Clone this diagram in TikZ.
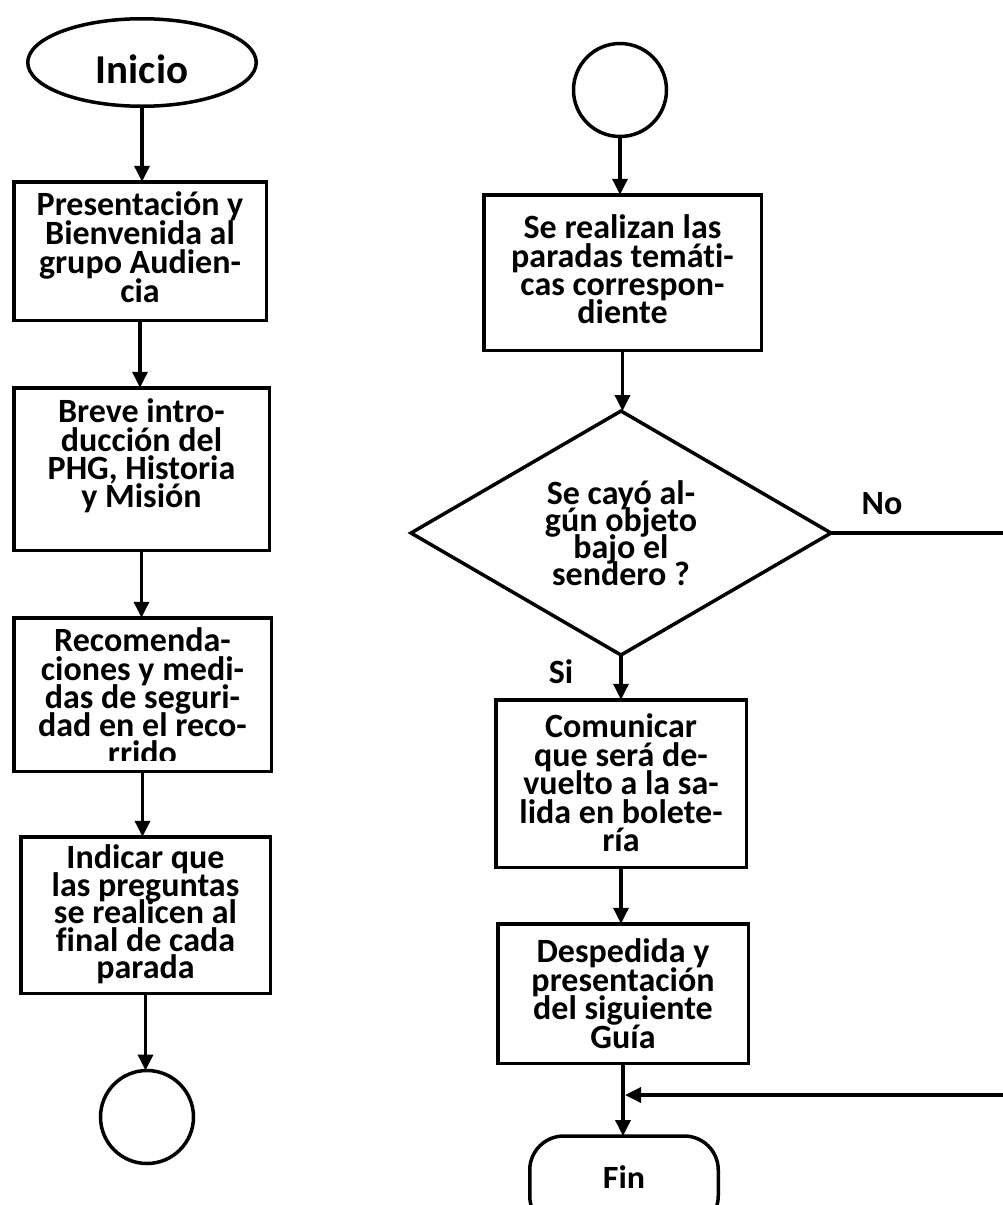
\documentclass[tikz,border=0pt]{standalone}
\usepackage{fontspec}
\setmainfont{Carlito}[Ligatures={NoCommon}]
\usetikzlibrary{arrows.meta,shapes.geometric}

% bold text with a fixed, tight line pitch (lines may touch)
\newcommand\tightbold[1]{\fontsize{34}{#1}\selectfont\bfseries\lineskiplimit=-100pt\relax}
% top-aligned centred text block: height, width, first-baseline drop, text
\newcommand\stepcontent[4]{%
  \parbox[c][#1][t]{#2}{\centering\lineskiplimit=-100pt\rule{0pt}{#3}#4}}

\begin{document}
\begin{tikzpicture}[x=1pt,y=-1pt,
  line width=3.5pt,
  every node/.style={inner sep=0pt, outer sep=0pt},
  stepbox/.style={draw, rectangle, fill=white, font=\tightbold{28.3}},
  terminal/.style={draw, ellipse, align=center,
    font=\fontsize{41}{41}\selectfont\bfseries},
  connector/.style={draw, circle, minimum size=93pt},
  decision/.style={draw, diamond, align=center, shape aspect=1.72, font=\tightbold{27}},
  endbox/.style={draw, rectangle, rounded corners=34pt},
  tag/.style={font=\fontsize{34}{34}\selectfont\bfseries},
  arr/.style={-{Triangle[length=16pt,width=15pt]}, line width=3.5pt}
]
\useasboundingbox (0,0) rectangle (1002,1205);

% ---- left column ----
\node[terminal, minimum width=228.5pt, minimum height=87.5pt, text height=41pt, text depth=0pt]
  (ini) at (142,62.5) {Inicio};

\node[stepbox, font=\tightbold{29}] (b1) at (140,251)
  {\stepcontent{138.5pt}{252.5pt}{34pt}{Presentación y\\Bienvenida al\\grupo Audien-\\cia}};

\node[stepbox] (b2) at (141.5,469)
  {\stepcontent{162.5pt}{255.5pt}{35pt}{Breve intro-\\ducción del\\PHG, Historia\\y Misión}};

% the last line of this step runs past the bottom margin and is cut off
\node[stepbox, minimum width=257.5pt, minimum height=153.5pt] (b3) at (142.5,694.5) {};
\begin{scope}
  \clip (14,618) rectangle (271,760);
  \node[font=\tightbold{28.3}] (b3txt) at (142.5,694.5)
    {\stepcontent{153.5pt}{257.5pt}{34pt}{Recomenda-\\ciones y medi-\\das de seguri-\\dad en el reco-\\rrido}};
\end{scope}

\node[stepbox, font=\tightbold{27.5}] (b4) at (145.5,915)
  {\stepcontent{156.5pt}{249.5pt}{32pt}{Indicar que\\las preguntas\\se realicen al\\final de cada\\parada}};

\node[connector] (c1) at (147,1117) {};

\draw[arr] (ini.south) -- (ini.south |- b1.north);
\draw[arr] (b1.south) -- (b1.south |- b2.north);
\draw[arr] (b2.south) -- (b2.south |- b3.north);
\draw[arr] (b3.south) -- (b3.south |- b4.north);
\draw[arr] (b4.south) -- (b4.south |- c1.north);

% ---- right column ----
\node[connector] (c2) at (620,90) {};

\node[stepbox] (b5) at (622.5,272.5)
  {\stepcontent{155.5pt}{277.5pt}{44pt}{Se realizan las\\paradas temáti-\\cas correspon-\\diente}};

\node[decision, minimum width=420pt, minimum height=244pt] (dec) at (621,533)
  {Se cayó al-\\gún objeto\\bajo el\\sendero ?};

\node[stepbox, font=\tightbold{28.5}] (b6) at (621,783.5)
  {\stepcontent{167.5pt}{250.5pt}{38pt}{Comunicar\\que será de-\\vuelto a la sa-\\lida en bolete-\\ría}};

\node[stepbox, font=\tightbold{28.5}] (b7) at (623,993.5)
  {\stepcontent{139.5pt}{250.5pt}{39pt}{Despedida y\\presentación\\del siguiente\\Guía}};

% end terminal, its label cut off at the lower margin
\node[endbox, minimum width=188.5pt, minimum height=94pt] (fin) at (624,1183) {};
\begin{scope}
  \clip (540,1140) rectangle (708,1187);
  \node[tag, text height=23pt, text depth=0pt] (fintxt) at (624,1178) {Fin};
\end{scope}

\node[tag] (no) at (882,504) {No};
\node[tag] (si) at (561,672) {Si};

\draw[arr] (c2.south) -- (c2.south |- b5.north);
\draw[arr] (b5.south) -- (b5.south |- dec.north);
\draw[arr] (dec.south) -- (dec.south |- b6.north);
\draw[arr] (b6.south) -- (b6.south |- b7.north);
\draw[arr] (b7.south) -- (b7.south |- fin.north);

% "No" branch: leaves to the right and comes back above the end terminal
\coordinate (merge) at ([xshift=2pt]b7.south |- 0,1095);
\draw[arr] (dec.east) -- ++(185,0) |- (merge);
\end{tikzpicture}
\end{document}
